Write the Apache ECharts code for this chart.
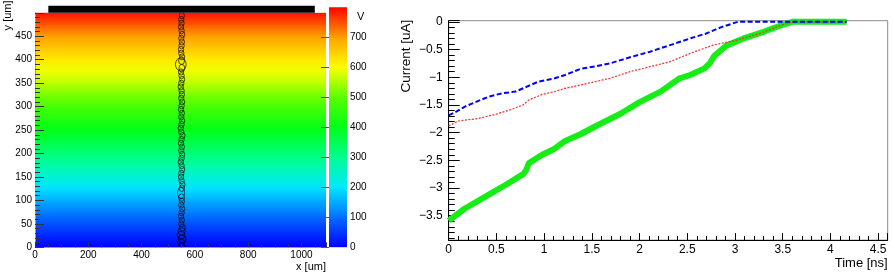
<!DOCTYPE html>
<html>
<head>
<meta charset="utf-8">
<script src="https://cdn.jsdelivr.net/npm/echarts@6/dist/echarts.min.js"></script>
<style>
  html, body { margin: 0; padding: 0; background: #fff; }
  #main { width: 893px; height: 276px; }
</style>
</head>
<body>
<div id="main"></div>
<script>
// potential map: value (V) along y
const mapY = [0, 25, 50, 75, 100, 125, 150, 175, 200, 225, 250, 275, 300, 325, 350, 375, 400, 425, 450, 475, 500];
const mapV = [0, 35, 72, 112, 152, 195, 238, 280, 320, 360, 400, 440, 480, 520, 560, 590, 622, 660, 700, 745, 790];
const mapXMax = 1092;

// readout strip above the sensor (x from / to, y from / to, um)
const stripX = [50, 1050];
const stripY = [500, 515];

// drifting charge track: centre x, y and cloud size (um)
const trackY = [3, 10, 18, 26, 34, 42, 50, 58, 66, 74, 82, 90, 98, 106, 116, 126, 134, 142, 150, 158, 166, 174, 182, 190, 198, 206, 214, 222, 230, 238, 246, 254, 262, 270, 278, 286, 294, 302, 310, 318, 326, 334, 342, 350, 358, 366, 374, 382, 390, 398, 406, 414, 422, 430, 438, 446, 454, 462, 470, 478, 486, 494];
const trackX = [551, 549, 552, 548, 550, 553, 549, 551, 548, 550, 552, 549, 551, 550, 548, 551, 553, 550, 548, 549, 552, 550, 547, 550, 552, 549, 551, 548, 550, 553, 549, 547, 550, 552, 549, 551, 548, 550, 552, 549, 551, 550, 547, 549, 552, 550, 548, 551, 547, 550, 552, 549, 548, 550, 551, 549, 552, 550, 548, 550, 549, 551];
const trackW = [22, 26, 30, 30, 28, 22, 20, 20, 20, 20, 20, 20, 20, 22, 26, 20, 20, 20, 20, 20, 20, 20, 20, 20, 20, 20, 20, 20, 20, 20, 20, 20, 20, 20, 20, 20, 20, 20, 20, 20, 20, 20, 20, 20, 20, 20, 20, 22, 40, 22, 20, 20, 20, 20, 20, 20, 20, 20, 20, 20, 20, 20];
const trackH = [12, 14, 16, 16, 16, 14, 13, 13, 13, 13, 13, 13, 13, 16, 24, 14, 13, 13, 13, 13, 13, 13, 13, 13, 13, 13, 13, 13, 13, 13, 13, 13, 13, 13, 13, 13, 13, 13, 13, 13, 13, 13, 13, 13, 13, 13, 13, 16, 28, 16, 13, 13, 13, 13, 13, 13, 13, 13, 13, 13, 13, 13];

// colour bar levels (V)
const cbLevels = [0, 100, 200, 300, 400, 500, 600, 700, 800];

// induced current vs time
const blueT = [0, 0.07, 0.17, 0.28, 0.42, 0.56, 0.70, 0.82, 0.94, 1.11, 1.22, 1.38, 1.55, 1.69, 1.90, 2.11, 2.32, 2.53, 2.70, 2.85, 3.03, 3.5, 4.17];
const blueI = [-1.69, -1.63, -1.53, -1.45, -1.35, -1.29, -1.26, -1.17, -1.08, -1.02, -0.96, -0.85, -0.80, -0.75, -0.64, -0.54, -0.42, -0.30, -0.21, -0.10, 0, 0, 0];
const redT = [0, 0.10, 0.31, 0.49, 0.66, 0.78, 0.84, 0.98, 1.11, 1.22, 1.38, 1.69, 1.90, 2.11, 2.32, 2.53, 2.77, 3.02, 3.26, 3.47, 3.60, 4.17];
const redI = [-1.88, -1.79, -1.745, -1.67, -1.58, -1.50, -1.41, -1.31, -1.26, -1.20, -1.14, -1.02, -0.90, -0.81, -0.72, -0.57, -0.42, -0.33, -0.21, -0.07, 0, 0];
const greenT = [0, 0.10, 0.17, 0.38, 0.59, 0.78, 0.81, 0.84, 0.98, 1.11, 1.22, 1.38, 1.59, 1.80, 2.00, 2.22, 2.42, 2.53, 2.68, 2.74, 2.78, 2.91, 3.09, 3.30, 3.47, 3.60, 4.17];
const greenI = [-3.59, -3.46, -3.37, -3.16, -2.95, -2.75, -2.68, -2.55, -2.40, -2.29, -2.15, -2.03, -1.84, -1.66, -1.45, -1.26, -1.02, -0.96, -0.84, -0.74, -0.62, -0.43, -0.30, -0.18, -0.07, 0, 0];

const palette = ['#0000ff', '#0070ff', '#00e8ff', '#00ff90', '#00ff18', '#58ff00', '#ffff00', '#ffa000', '#ff0000'];
const colorOf = (v) => echarts.color.lerp(Math.min(1, Math.max(0, v / 800)), palette);

const font = 'Liberation Sans, Arial, Helvetica, sans-serif';
const pair = (xs, ys) => xs.map((x, i) => [x, ys[i]]);
const minus = (v) => String(v).replace('-', '\u2212');
const plain = (v) => String(v);

const mapRows = mapY.slice(1).map((y, i) => [mapY[i], y, mapV[i], mapV[i + 1]]);
const cbRows = cbLevels.slice(1).map((v, i) => [cbLevels[i], v]);
const trackData = trackY.map((y, i) => [trackX[i], y, trackW[i], trackH[i]]);

const chart = echarts.init(document.getElementById('main'));

chart.setOption({
  animation: false,
  textStyle: { fontFamily: font },
  grid: [
    { left: 35, top: 7.3, width: 291, height: 240 },
    { left: 329, top: 7.3, width: 18, height: 240 },
    { left: 448.7, top: 20.7, right: 5.3, height: 219.4, show: true, borderColor: '#8a8a8a', borderWidth: 1 },
  ],
  graphic: [
    { type: 'text', left: 357, top: 11, style: { text: 'V', fontSize: 11, fontFamily: font, fill: '#000' } },
  ],
  xAxis: [
    {
      gridIndex: 0, type: 'value', min: 0, max: mapXMax, interval: 200, z: 10,
      axisLine: { show: true, onZero: false, lineStyle: { color: '#9a9ab0', width: 1 } },
      axisTick: { inside: true, length: 5, lineStyle: { color: '#333' } },
      minorTick: { show: true, splitNumber: 4, length: 3, lineStyle: { color: '#333' } },
      axisLabel: { margin: 3, fontSize: 10, color: '#000', showMaxLabel: false, formatter: plain },
      splitLine: { show: false },
      name: 'x [um]', nameLocation: 'end', nameGap: 0,
      nameTextStyle: { color: '#000', fontSize: 11, align: 'right', verticalAlign: 'top', padding: [14, 0, 0, 0] },
    },
    { gridIndex: 1, type: 'value', min: 0, max: 1, show: false },
    {
      gridIndex: 2, type: 'value', min: 0, max: 4.6, interval: 0.5,
      axisLine: { show: true, onZero: false, lineStyle: { color: '#000', width: 1 } },
      axisTick: { inside: true, length: 7, lineStyle: { color: '#000' } },
      minorTick: { show: true, splitNumber: 5, length: 4, lineStyle: { color: '#000' } },
      axisLabel: { margin: 4, fontSize: 12, color: '#000', showMaxLabel: false },
      splitLine: { show: false },
      name: 'Time [ns]', nameLocation: 'end', nameGap: 0,
      nameTextStyle: { color: '#000', fontSize: 13, align: 'right', verticalAlign: 'top', padding: [17, 0, 0, 0] },
    },
  ],
  yAxis: [
    {
      gridIndex: 0, type: 'value', min: 0, max: 500, interval: 50, z: 10,
      axisLine: { show: true, onZero: false, lineStyle: { color: '#9a9a9a', width: 1 } },
      axisTick: { inside: true, length: 9, lineStyle: { color: '#333' } },
      minorTick: { show: true, splitNumber: 5, length: 5, lineStyle: { color: '#333' } },
      axisLabel: { margin: 3, fontSize: 10, color: '#000', showMaxLabel: false },
      splitLine: { show: false },
      name: 'y [um]', nameLocation: 'end', nameGap: 5, nameRotate: 90,
      nameTextStyle: { color: '#000', fontSize: 11, align: 'right', verticalAlign: 'bottom', padding: [0, 0, 22, 0] },
    },
    {
      gridIndex: 1, type: 'value', min: 0, max: 800, interval: 100, position: 'right', z: 10,
      axisLine: { show: false },
      axisTick: { inside: true, length: 8, lineStyle: { color: '#555' } },
      axisLabel: { margin: 3, fontSize: 10, color: '#000', showMaxLabel: false },
      splitLine: { show: false },
    },
    {
      gridIndex: 2, type: 'value', min: -3.94, max: 0.02, splitNumber: 8,
      axisLine: { show: true, onZero: false, lineStyle: { color: '#000', width: 1 } },
      axisTick: { inside: true, length: 11, lineStyle: { color: '#000' } },
      minorTick: { show: true, splitNumber: 5, length: 6, lineStyle: { color: '#000' } },
      axisLabel: { margin: 6, fontSize: 12, color: '#000', showMinLabel: false, showMaxLabel: false, formatter: minus },
      splitLine: { show: false },
      name: 'Current [uA]', nameLocation: 'end', nameGap: 1, nameRotate: 90,
      nameTextStyle: { color: '#000', fontSize: 13.5, align: 'right', verticalAlign: 'bottom', padding: [0, 0, 35, 0] },
    },
  ],
  series: [
    {
      // potential map
      type: 'custom', xAxisIndex: 0, yAxisIndex: 0, clip: true, silent: true,
      data: mapRows,
      renderItem: function (params, api) {
        const a = api.coord([0, api.value(1)]);
        const b = api.coord([mapXMax, api.value(0)]);
        return {
          type: 'rect',
          shape: { x: a[0], y: a[1] - 0.5, width: b[0] - a[0], height: b[1] - a[1] + 1 },
          style: {
            fill: new echarts.graphic.LinearGradient(0, 0, 0, 1, [
              { offset: 0, color: colorOf(api.value(3)) },
              { offset: 1, color: colorOf(api.value(2)) },
            ]),
          },
        };
      },
    },
    {
      // strip
      type: 'custom', xAxisIndex: 0, yAxisIndex: 0, clip: false, silent: true,
      data: [[stripX[0], stripX[1], stripY[0], stripY[1]]],
      renderItem: function (params, api) {
        const a = api.coord([api.value(0), api.value(3)]);
        const b = api.coord([api.value(1), api.value(2)]);
        return { type: 'rect', shape: { x: a[0], y: a[1], width: b[0] - a[0], height: b[1] - a[1] }, style: { fill: '#000' } };
      },
    },
    {
      // charge clouds
      type: 'custom', xAxisIndex: 0, yAxisIndex: 0, clip: true, silent: true,
      data: trackData,
      renderItem: function (params, api) {
        const c = api.coord([api.value(0), api.value(1)]);
        const s = api.size([api.value(2), api.value(3)]);
        return {
          type: 'circle',
          x: c[0], y: c[1], scaleX: s[0] / 2, scaleY: s[1] / 2,
          shape: { cx: 0, cy: 0, r: 1 },
          style: { fill: 'none', stroke: 'rgba(0,0,0,0.85)', lineWidth: 0.8, strokeNoScale: true },
          strokeNoScale: true,
        };
      },
    },
    {
      // colour bar
      type: 'custom', xAxisIndex: 1, yAxisIndex: 1, clip: true, silent: true,
      data: cbRows,
      renderItem: function (params, api) {
        const a = api.coord([0, api.value(1)]);
        const b = api.coord([1, api.value(0)]);
        return {
          type: 'rect',
          shape: { x: a[0], y: a[1] - 0.5, width: b[0] - a[0], height: b[1] - a[1] + 1 },
          style: {
            fill: new echarts.graphic.LinearGradient(0, 0, 0, 1, [
              { offset: 0, color: colorOf(api.value(1)) },
              { offset: 1, color: colorOf(api.value(0)) },
            ]),
          },
        };
      },
    },
    {
      type: 'line', xAxisIndex: 2, yAxisIndex: 2, data: pair(greenT, greenI),
      showSymbol: false, symbol: 'none', silent: true,
      lineStyle: { color: '#14ee14', width: 6 },
    },
    {
      type: 'line', xAxisIndex: 2, yAxisIndex: 2, data: pair(redT, redI),
      showSymbol: false, symbol: 'none', silent: true,
      lineStyle: { color: '#ff2a2a', width: 1.2, type: [2, 1.5] },
    },
    {
      type: 'line', xAxisIndex: 2, yAxisIndex: 2, data: pair(blueT, blueI),
      showSymbol: false, symbol: 'none', silent: true,
      lineStyle: { color: '#0000ff', width: 2, type: [5, 2.5] },
    },
  ],
});
</script>
</body>
</html>
